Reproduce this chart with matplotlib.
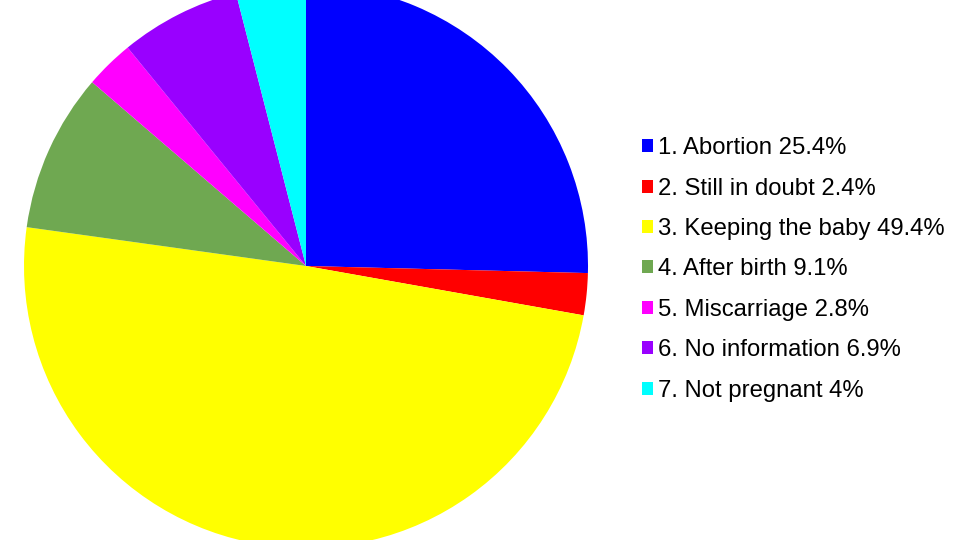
import matplotlib
matplotlib.use("Agg")
import matplotlib.pyplot as plt

# --- DATA ---
labels = ["1. Abortion", "2. Still in doubt", "3. Keeping the baby", "4. After birth",
          "5. Miscarriage", "6. No information", "7. Not pregnant"]
values = [25.4, 2.4, 49.4, 9.1, 2.8, 6.9, 4]
value_text = ["25.4%", "2.4%", "49.4%", "9.1%", "2.8%", "6.9%", "4%"]
colors = ["#0000FF", "#FF0000", "#FFFF00", "#6FA851", "#FF00FF", "#9900FF", "#00FFFF"]

plt.rcParams['font.family'] = ['Liberation Sans', 'DejaVu Sans']

fig = plt.figure(figsize=(9.6, 5.4), dpi=100)

# pie axes: centre ~ (306, 266) px, radius ~ 282 px (top/bottom clipped by the figure)
ax = fig.add_axes([24 / 960, (540 - 548) / 540, 564 / 960, 564 / 540])
wedges, _ = ax.pie(values, colors=colors, startangle=90, counterclock=False,
                   radius=1, wedgeprops=dict(linewidth=0))
ax.set_xlim(-1, 1)
ax.set_ylim(-1, 1)
ax.set_aspect('equal')
ax.axis('off')

legend_labels = [f"{l} {v}" for l, v in zip(labels, value_text)]
fig.legend(wedges, legend_labels, loc='center left', bbox_to_anchor=(642 / 960, 0.501),
           frameon=False, fontsize=17.2, borderpad=0, borderaxespad=0,
           handlelength=0.46, handleheight=0.46, handletextpad=0.22, labelspacing=0.77)

fig.savefig("out.png", dpi=100)
